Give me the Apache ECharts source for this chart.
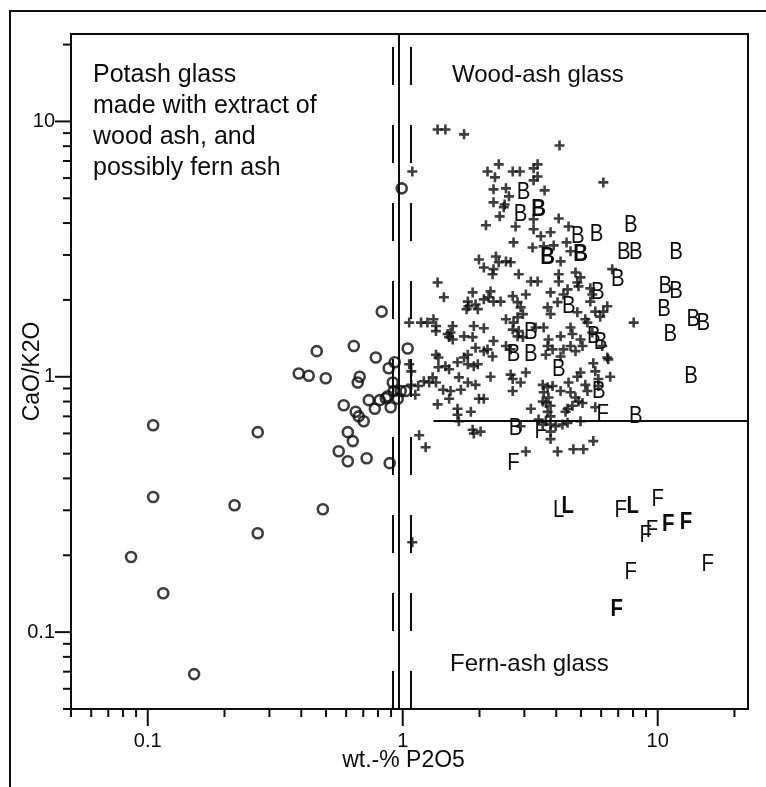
<!DOCTYPE html>
<html>
<head>
<meta charset="utf-8">
<script src="https://cdn.jsdelivr.net/npm/echarts@6/dist/echarts.min.js"></script>
<style>
  html, body { margin: 0; padding: 0; background: #fff; }
  #chart { width: 766px; height: 787px; }
</style>
</head>
<body>
<div id="chart"></div>
<script>
// axis ticks (log scale, both axes)
var majorTicks = [0.1, 1, 10]
var xMinorTicks = [0.05, 0.06, 0.07, 0.08, 0.09, 0.2, 0.3, 0.4, 0.5, 0.6, 0.7, 0.8, 0.9, 2, 3, 4, 5, 6, 7, 8, 9, 20]
var yMinorTicks = [0.05, 0.06, 0.07, 0.08, 0.09, 0.2, 0.3, 0.4, 0.5, 0.6, 0.7, 0.8, 0.9, 2, 3, 4, 5, 6, 7, 8, 9, 20]

// boundary lines: P2O5 split with its uncertainty band, CaO/K2O split for fern ash
var p2o5Split = 0.965
var p2o5Band = [0.914, 1.075]
var fernRatio = 0.671
var fernLineStart = 1.32

// potash glass (open circles) [P2O5, CaO/K2O]
var potash = [
  [0.827, 1.80], [0.460, 1.26], [0.643, 1.32], [0.784, 1.19], [0.391, 1.03], [0.428, 1.01],
  [0.499, 0.987], [0.678, 1.00], [0.666, 0.95], [0.881, 1.08], [0.930, 1.14], [0.914, 0.95],
  [0.587, 0.774], [0.654, 0.73], [0.672, 0.70], [0.703, 0.67], [0.736, 0.81], [0.777, 0.75],
  [0.812, 0.81], [0.873, 0.839], [0.897, 0.76], [0.922, 0.88], [0.956, 0.82], [0.609, 0.607],
  [0.637, 0.56], [0.561, 0.511], [0.609, 0.467], [0.722, 0.480], [0.889, 0.459], [0.105, 0.646],
  [0.270, 0.607], [0.105, 0.338], [0.219, 0.314], [0.270, 0.244], [0.486, 0.303], [0.086, 0.197],
  [0.115, 0.142], [0.152, 0.0685], [0.991, 5.47], [0.982, 0.88], [1.027, 0.88], [0.858, 0.824],
  [1.046, 1.29]
]

// wood-ash glass analyses (crosses)
var woodAsh = [
  [1.37, 9.30], [1.47, 9.30], [1.74, 8.90], [4.12, 8.05], [1.09, 6.37], [6.12, 5.77],
  [2.38, 6.79], [2.15, 6.37], [2.30, 6.04], [2.70, 6.37], [2.88, 6.37], [3.38, 6.79], [3.26, 6.55], [3.38, 6.09], [3.26, 5.88],
  [2.27, 5.42], [2.54, 5.47], [2.61, 5.09], [2.27, 4.82], [2.51, 4.73], [2.49, 4.61], [3.60, 5.37], [2.40, 4.25], [2.12, 3.92],
  [2.77, 3.88], [3.26, 4.14], [3.26, 3.78], [4.09, 4.17], [4.47, 3.88], [3.80, 3.68], [3.48, 3.55],
  [1.99, 2.88], [1.37, 2.34], [1.45, 2.05], [1.88, 2.14], [1.80, 1.97], [1.81, 1.89], [1.93, 1.92], [1.97, 1.84], [1.78, 1.84],
  [1.06, 1.63], [1.18, 1.63], [1.25, 1.63], [1.32, 1.68], [1.35, 1.58], [1.35, 1.51],
  [1.57, 1.58], [1.54, 1.49], [1.50, 1.47], [1.52, 1.43], [1.57, 1.40],
  [1.74, 1.44], [1.88, 1.43], [1.93, 1.30], [1.80, 1.22], [1.74, 1.19], [1.90, 1.58], [1.35, 1.22], [1.38, 1.19],
  [2.72, 3.36], [3.23, 3.21], [3.57, 3.24], [3.91, 3.27], [4.39, 3.36], [4.55, 3.10], [4.16, 2.83],
  [2.08, 2.68], [2.32, 2.96], [2.38, 2.81], [2.54, 2.83], [2.65, 2.81], [2.27, 2.64], [2.25, 2.52], [2.85, 2.52],
  [3.18, 2.36], [3.38, 2.36], [4.09, 2.52], [4.09, 2.36], [4.76, 2.56], [4.98, 2.45], [4.84, 2.34], [4.43, 2.20],
  [4.27, 2.10], [4.89, 2.26], [3.80, 2.14], [3.04, 2.10], [5.44, 2.22], [5.54, 2.10], [5.44, 1.97], [6.63, 2.64],
  [2.21, 2.16], [2.17, 2.05], [2.27, 1.97], [2.08, 2.01], [2.42, 1.97], [2.70, 2.07], [2.82, 1.96], [2.90, 1.87],
  [2.96, 1.76], [2.82, 1.71], [3.70, 1.87], [3.80, 1.76], [4.05, 1.96], [4.84, 1.79], [5.69, 1.80], [6.12, 1.80],
  [6.34, 1.89], [5.95, 1.72], [5.20, 1.68], [2.54, 1.68],
  [2.08, 1.55], [2.27, 1.38], [2.15, 1.28], [2.25, 1.20], [2.72, 1.63], [2.70, 1.53], [2.85, 1.51], [2.82, 1.44],
  [2.96, 1.43], [3.32, 1.56], [3.57, 1.56], [3.73, 1.40], [3.70, 1.32], [3.87, 1.28], [3.64, 1.22], [4.16, 1.44],
  [4.55, 1.56], [4.63, 1.47], [4.98, 1.40], [4.55, 1.32], [4.76, 1.26], [5.07, 1.32], [5.30, 1.63], [5.54, 1.49],
  [6.06, 1.32], [6.34, 1.19], [8.05, 1.63], [2.08, 1.26], [2.54, 1.32], [2.65, 1.28], [4.27, 1.28], [4.16, 1.20],
  [1.06, 1.12], [1.08, 1.05], [1.21, 0.96], [1.27, 0.95], [1.31, 0.995], [1.35, 0.95], [1.15, 0.92], [1.12, 0.85],
  [1.08, 0.93], [1.38, 1.09], [1.47, 1.10], [1.52, 1.07], [1.64, 1.14], [1.80, 1.12], [1.90, 1.10], [1.97, 1.12],
  [1.44, 0.89], [1.54, 0.88], [1.52, 0.82], [1.69, 0.89], [1.80, 0.95], [1.93, 0.93], [1.66, 0.995], [1.37, 0.78],
  [1.64, 0.75], [1.64, 0.71], [1.85, 0.73], [1.66, 0.67], [1.88, 0.62], [1.90, 0.60], [1.16, 0.59], [1.23, 0.53],
  [1.99, 0.82], [1.09, 0.225],
  [2.21, 1.00], [2.65, 1.02], [2.70, 0.98], [2.70, 0.88], [2.90, 0.95], [3.04, 1.04], [3.54, 0.93], [3.57, 0.87],
  [3.70, 0.91], [3.87, 0.92], [3.73, 0.83], [3.54, 0.80], [3.64, 0.79], [3.80, 0.77], [3.70, 0.73], [3.80, 0.70],
  [3.64, 0.67], [3.80, 0.65], [4.16, 0.88], [4.47, 0.95], [4.84, 1.00], [4.98, 1.04], [4.55, 0.87], [4.76, 0.83],
  [4.89, 0.80], [5.07, 0.79], [4.43, 0.75], [4.35, 0.73], [4.63, 0.77], [5.20, 0.93], [5.30, 0.88], [5.69, 1.05],
  [5.85, 0.98], [5.85, 0.92], [6.51, 1.00], [3.18, 0.75], [5.69, 0.76], [3.41, 0.68], [3.54, 0.65], [3.80, 0.61],
  [3.80, 0.57], [3.98, 0.64], [4.23, 0.65], [4.43, 0.66], [4.98, 0.67], [2.90, 0.64], [3.04, 0.51], [4.05, 0.51],
  [4.67, 0.52], [5.11, 0.52], [5.59, 0.56], [2.08, 0.82], [2.02, 0.61], [6.40, 1.17], [5.59, 1.13]
]

// reference ashes, drawn as letters (B, F, L; bold = second group)
var bPlain = [
  [2.98, 5.27], [2.90, 4.32], [4.86, 3.55], [5.76, 3.61], [7.84, 3.92], [7.36, 3.07], [8.20, 3.07], [11.8, 3.07],
  [6.97, 2.41], [5.82, 2.14], [4.48, 1.89], [10.7, 2.26], [11.8, 2.16], [10.6, 1.84], [13.8, 1.68], [15.1, 1.62],
  [11.2, 1.47], [3.18, 1.49], [5.61, 1.44], [5.97, 1.36], [2.72, 1.22], [3.18, 1.22], [4.09, 1.07], [5.87, 0.88],
  [13.5, 1.00], [8.20, 0.70], [2.77, 0.63]
]
var bBold = [[3.41, 4.52], [3.70, 2.94], [4.99, 3.02]]
var fPlain = [[6.09, 0.71], [3.48, 0.61], [2.72, 0.46], [7.16, 0.30], [10.0, 0.33], [8.98, 0.24], [9.5, 0.25], [15.7, 0.185], [7.84, 0.172]]
var fBold = [[11.0, 0.265], [12.9, 0.27], [6.9, 0.123]]
var lPlain = [[4.09, 0.30]]
var lBold = [[4.44, 0.31], [7.98, 0.31]]

var X_MIN = 0.05
var X_MAX = 22.6
var Y_MIN = 0.05
var Y_MAX = 22
var INK = '#0d0d0d'
var FONT = '"Liberation Sans", Arial, sans-serif'

function isDecade (v) {
  var l = Math.log10(v)
  return Math.abs(l - Math.round(l)) < 1e-6
}

function decadeLabel (v) {
  return isDecade(v) ? String(+v.toPrecision(3)) : ''
}

function letterSeries (name, ch, bold, data) {
  return {
    type: 'custom',
    name: name,
    silent: true,
    data: data,
    z: 4,
    renderItem: function (params, api) {
      var p = api.coord([api.value(0), api.value(1)])
      return {
        type: 'text',
        x: p[0],
        y: p[1],
        scaleX: 0.85,
        style: {
          text: ch,
          font: (bold ? 'bold ' : '') + '24px ' + FONT,
          fill: INK,
          align: 'center',
          verticalAlign: 'middle'
        }
      }
    }
  }
}

var chart = echarts.init(document.getElementById('chart'))

var option = {
  animation: false,
  backgroundColor: '#fff',
  grid: {
    left: 71,
    top: 34,
    width: 677,
    height: 675,
    outerBoundsMode: 'none',
    containLabel: false,
    show: true,
    borderColor: INK,
    borderWidth: 2,
    backgroundColor: 'transparent'
  },
  xAxis: {
    type: 'log',
    logBase: 10,
    min: X_MIN,
    max: X_MAX,
    name: 'wt.-% P2O5',
    nameLocation: 'middle',
    nameGap: 40,
    nameMoveOverlap: false,
    nameTextStyle: { fontSize: 23, fontFamily: FONT, color: INK, padding: [0, 12, 0, 0] },
    axisLine: { show: true, lineStyle: { color: INK, width: 2 } },
    axisTick: { show: false },
    splitLine: { show: false },
    axisLabel: { margin: 22, fontSize: 20, fontFamily: FONT, color: INK, formatter: decadeLabel, showMinLabel: false, showMaxLabel: false }
  },
  yAxis: {
    type: 'log',
    logBase: 10,
    min: Y_MIN,
    max: Y_MAX,
    name: 'CaO/K2O',
    nameLocation: 'middle',
    nameGap: 27,
    nameMoveOverlap: false,
    nameTextStyle: { fontSize: 23, fontFamily: FONT, color: INK },
    axisLine: { show: true, lineStyle: { color: INK, width: 2 } },
    axisTick: { show: false },
    splitLine: { show: false },
    axisLabel: { margin: 16, fontSize: 20, fontFamily: FONT, color: INK, formatter: decadeLabel, showMinLabel: false, showMaxLabel: false }
  },
  graphic: [
    {
      type: 'rect',
      silent: true,
      z: -10,
      shape: { x: 10, y: 11, width: 820, height: 820 },
      style: { fill: 'none', stroke: INK, lineWidth: 2 }
    },
    {
      type: 'text',
      left: 93,
      top: 60,
      silent: true,
      style: {
        text: 'Potash glass\nmade with extract of\nwood ash, and\npossibly fern ash',
        font: '25px ' + FONT,
        lineHeight: 31,
        fill: INK
      }
    },
    {
      type: 'text',
      left: 452,
      top: 60,
      silent: true,
      style: { text: 'Wood-ash glass', font: '24px ' + FONT, lineHeight: 31, fill: INK }
    },
    {
      type: 'text',
      left: 450,
      top: 649,
      silent: true,
      style: { text: 'Fern-ash glass', font: '24px ' + FONT, lineHeight: 31, fill: INK }
    }
  ],
  series: [
    {
      type: 'custom',
      name: 'x ticks',
      silent: true,
      clip: false,
      data: majorTicks.concat(xMinorTicks).map(function (v) { return [v, Y_MIN] }),
      renderItem: function (params, api) {
        var v = api.value(0)
        var p = api.coord([v, Y_MIN])
        var len = isDecade(v) ? 17 : 8
        return { type: 'line', shape: { x1: p[0], y1: p[1], x2: p[0], y2: p[1] + len }, style: { stroke: INK, lineWidth: 2 } }
      }
    },
    {
      type: 'custom',
      name: 'y ticks',
      silent: true,
      clip: false,
      data: majorTicks.concat(yMinorTicks).map(function (v) { return [X_MIN, v] }),
      renderItem: function (params, api) {
        var v = api.value(1)
        var p = api.coord([X_MIN, v])
        var len = isDecade(v) ? 16 : 8
        return { type: 'line', shape: { x1: p[0] - len, y1: p[1], x2: p[0], y2: p[1] }, style: { stroke: INK, lineWidth: 2 } }
      }
    },
    {
      type: 'scatter',
      name: 'potash glass',
      silent: true,
      symbol: 'circle',
      symbolSize: 10,
      itemStyle: { color: 'transparent', borderColor: INK, borderWidth: 2.6 },
      data: potash,
      z: 3,
      markLine: {
        silent: true,
        symbol: ['none', 'none'],
        label: { show: false },
        emphasis: { disabled: true },
        lineStyle: { color: INK, width: 2, type: 'solid' },
        data: [
          [{ coord: [p2o5Split, Y_MIN] }, { coord: [p2o5Split, Y_MAX] }],
          [{ coord: [p2o5Band[0], Y_MIN], lineStyle: { type: [38, 40] } }, { coord: [p2o5Band[0], Y_MAX] }],
          [{ coord: [p2o5Band[1], Y_MIN], lineStyle: { type: [38, 40] } }, { coord: [p2o5Band[1], Y_MAX] }],
          [{ coord: [fernLineStart, fernRatio] }, { coord: [X_MAX, fernRatio] }]
        ]
      }
    },
    {
      type: 'scatter',
      name: 'wood-ash glass',
      silent: true,
      symbol: 'path://M5,0L5,10M0,5L10,5',
      symbolSize: 10,
      itemStyle: { color: 'transparent', borderColor: INK, borderWidth: 2.6 },
      data: woodAsh,
      z: 3
    },
    letterSeries('beech ash', 'B', false, bPlain),
    letterSeries('beech ash, bold', 'B', true, bBold),
    letterSeries('fern ash', 'F', false, fPlain),
    letterSeries('fern ash, bold', 'F', true, fBold),
    letterSeries('L ash', 'L', false, lPlain),
    letterSeries('L ash, bold', 'L', true, lBold)
  ]
}

chart.setOption(option)
</script>
</body>
</html>
